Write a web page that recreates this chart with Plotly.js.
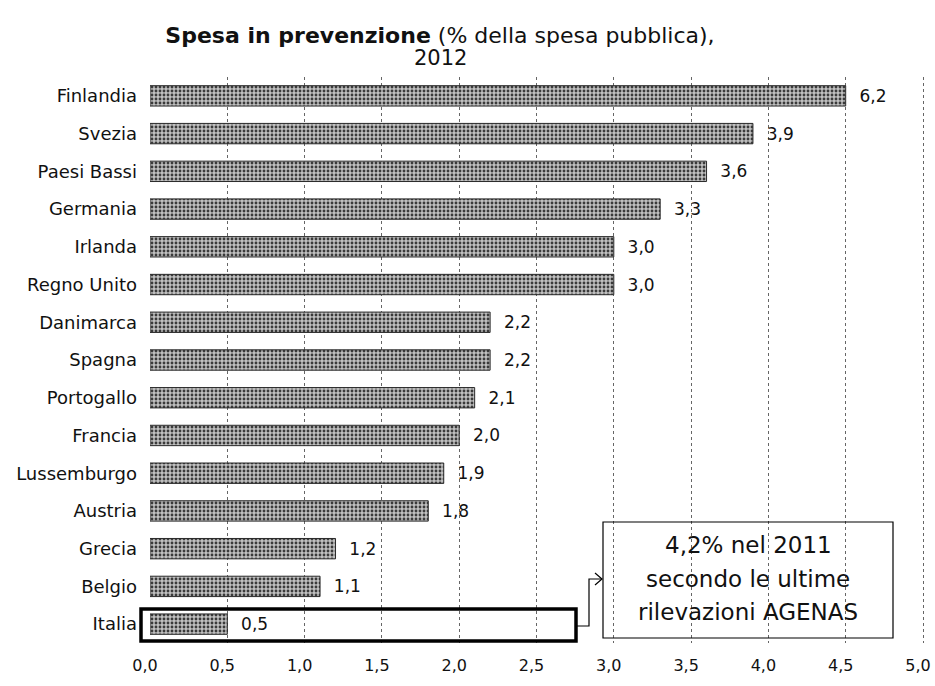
<!DOCTYPE html>
<html>
<head>
<meta charset="utf-8">
<script src="https://cdn.plot.ly/plotly-3.0.1.min.js"></script>
<style>html,body{margin:0;padding:0;background:#fff;}#chart{width:935px;height:686px;}</style>
</head>
<body>
<div id="chart"></div>
<script>
const countries = ["Finlandia","Svezia","Paesi Bassi","Germania","Irlanda","Regno Unito","Danimarca","Spagna","Portogallo","Francia","Lussemburgo","Austria","Grecia","Belgio","Italia"];
const values = [6.2,3.9,3.6,3.3,3.0,3.0,2.2,2.2,2.1,2.0,1.9,1.8,1.2,1.1,0.5];
const xTickVals = [0,0.5,1,1.5,2,2.5,3,3.5,4,4.5,5];
const noteLines = ["4,2% nel 2011","secondo le ultime","rilevazioni AGENAS"];
const barCap = 4.5; // Finlandia bar is drawn broken at the 4,5 gridline

const L = 150, R = 8, T = 77, B = 43;
const W = 935 - L - R, H = 686 - T - B;
const UNIT = 154.6; // pixels per 1.0 on the x axis
const px = x => (x - L) / W;          // pixel -> paper x
const py = y => 1 - (y - T) / H;      // pixel -> paper y

const fmt = v => v.toFixed(1).replace('.', ',');
const FONT = 'DejaVu Sans, Verdana, sans-serif';

const trace = {
  type: 'bar',
  orientation: 'h',
  y: countries,
  x: values.map(v => Math.min(v, barCap)),
  text: values.map(v => '\u00a0\u00a0' + fmt(v)),
  textposition: 'outside',
  constraintext: 'none',
  cliponaxis: false,
  textfont: {family: FONT, size: 17, color: '#111'},
  hoverinfo: 'none',
  marker: {
    color: '#b0b0b0',
    line: {color: '#2a2a2a', width: 1},
    pattern: {shape: '.', fgcolor: '#3a3a3a', bgcolor: '#c0c0c0', size: 4, solidity: 0.4}
  }
};

const shapes = [
  // highlight around Italia
  {type: 'rect', xref: 'paper', yref: 'paper', x0: px(141), x1: px(576), y0: py(609), y1: py(641),
   line: {color: '#000', width: 3.5}, fillcolor: 'rgba(0,0,0,0)', layer: 'above'},
  // note box
  {type: 'rect', xref: 'paper', yref: 'paper', x0: px(603), x1: px(893), y0: py(522), y1: py(638),
   line: {color: '#000', width: 1.2}, fillcolor: 'rgba(0,0,0,0)', layer: 'above'},
  // connector
  {type: 'path', xref: 'paper', yref: 'paper',
   path: `M ${px(577)} ${py(626)} L ${px(589)} ${py(626)} L ${px(589)} ${py(579)} L ${px(602)} ${py(579)}`,
   line: {color: '#000', width: 1.2}, layer: 'above'},
  {type: 'path', xref: 'paper', yref: 'paper',
   path: `M ${px(595)} ${py(573)} L ${px(602)} ${py(579)} L ${px(595)} ${py(585)}`,
   line: {color: '#000', width: 1.2}, layer: 'above'}
];

const noteY = [545, 579, 612];
const annotations = noteLines.map((t, i) => ({
  xref: 'paper', yref: 'paper', x: px(748), y: py(noteY[i]), xanchor: 'center', yanchor: 'middle',
  text: t, showarrow: false, align: 'center',
  font: {family: FONT, size: 23, color: '#111'}
}));
annotations.push({
  xref: 'paper', yref: 'paper', x: px(440), y: py(58), xanchor: 'center', yanchor: 'middle',
  text: '2012', showarrow: false, font: {family: FONT, size: 21, color: '#111'}
});

const layout = {
  width: 935, height: 686,
  margin: {l: L, r: R, t: T, b: B, pad: 0},
  paper_bgcolor: '#fff', plot_bgcolor: '#fff',
  separators: ',.',
  showlegend: false,
  bargap: 0.46,
  title: {
    text: '<b>Spesa in prevenzione</b> (% della spesa pubblica),',
    x: 440 / 935, xref: 'container', xanchor: 'center',
    y: 1 - 35 / 686, yref: 'container', yanchor: 'middle',
    font: {family: FONT, size: 22, color: '#111'}
  },
  xaxis: {
    range: [0, W / UNIT], tickvals: xTickVals, tickformat: '.1f',
    showgrid: true, gridcolor: '#666', gridwidth: 1, griddash: 'dot',
    zeroline: false, showline: false, ticks: '', ticklabelstandoff: 11,
    ticklabelshift: -5, ticklabeloverflow: 'allow',
    tickfont: {family: FONT, size: 16, color: '#111'},
    fixedrange: true
  },
  yaxis: {
    type: 'category', autorange: 'reversed',
    showgrid: false, zeroline: false, showline: false, ticks: '', ticklabelstandoff: 12,
    tickfont: {family: FONT, size: 18, color: '#111'},
    fixedrange: true
  },
  shapes: shapes,
  annotations: annotations
};

Plotly.newPlot('chart', [trace], layout, {displayModeBar: false, staticPlot: true});
</script>
</body>
</html>
